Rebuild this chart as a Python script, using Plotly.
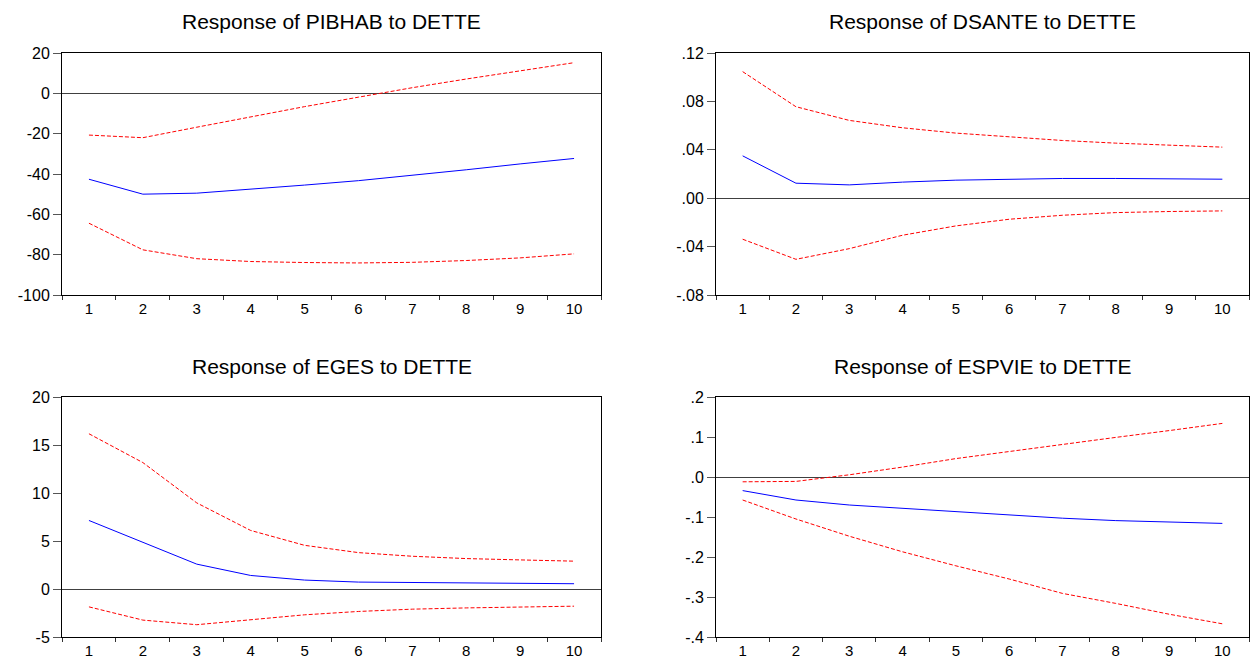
import plotly.graph_objects as go

periods = ["1", "2", "3", "4", "5", "6", "7", "8", "9", "10"]

# Response of PIBHAB to DETTE
pibhab_resp = [-42.6, -50.0, -49.5, -47.6, -45.5, -43.3, -40.7, -37.9, -35.0, -32.3]
pibhab_up = [-20.7, -22.0, -16.8, -11.6, -6.6, -1.9, 2.8, 7.1, 11.2, 15.2]
pibhab_lo = [-64.4, -77.6, -82.0, -83.4, -83.9, -84.1, -83.8, -82.9, -81.6, -79.6]

# Response of DSANTE to DETTE
dsante_resp = [0.035, 0.0124, 0.011, 0.0133, 0.0149, 0.0157, 0.0163, 0.0163, 0.0163, 0.0157]
dsante_up = [0.1046, 0.0756, 0.0643, 0.0582, 0.0538, 0.0505, 0.0477, 0.0455, 0.0439, 0.0422]
dsante_lo = [-0.0339, -0.0505, -0.0417, -0.0306, -0.0229, -0.0174, -0.0141, -0.0119, -0.0110, -0.0105]

# Response of EGES to DETTE
eges_resp = [7.14, 4.83, 2.59, 1.41, 0.93, 0.72, 0.66, 0.62, 0.59, 0.55]
eges_up = [16.17, 13.17, 8.97, 6.10, 4.55, 3.79, 3.41, 3.17, 3.03, 2.90]
eges_lo = [-1.86, -3.24, -3.72, -3.20, -2.69, -2.34, -2.10, -1.97, -1.86, -1.79]

# Response of ESPVIE to DETTE
espvie_resp = [-0.034, -0.0575, -0.070, -0.078, -0.087, -0.094, -0.103, -0.109, -0.113, -0.116]
espvie_up = [-0.012, -0.011, 0.0055, 0.0248, 0.046, 0.064, 0.082, 0.099, 0.116, 0.134]
espvie_lo = [-0.0575, -0.105, -0.148, -0.187, -0.222, -0.255, -0.291, -0.316, -0.343, -0.367]

titles = ["Response of PIBHAB to DETTE", "Response of DSANTE to DETTE",
          "Response of EGES to DETTE", "Response of ESPVIE to DETTE"]

pibhab_ticks = [-100, -80, -60, -40, -20, 0, 20]
pibhab_labels = ["-100", "-80", "-60", "-40", "-20", "0", "20"]
dsante_ticks = [-0.08, -0.04, 0.0, 0.04, 0.08, 0.12]
dsante_labels = ["-.08", "-.04", ".00", ".04", ".08", ".12"]
eges_ticks = [-5, 0, 5, 10, 15, 20]
eges_labels = ["-5", "0", "5", "10", "15", "20"]
espvie_ticks = [-0.4, -0.3, -0.2, -0.1, 0.0, 0.1, 0.2]
espvie_labels = ["-.4", "-.3", "-.2", "-.1", ".0", ".1", ".2"]

panels = [
    (pibhab_resp, pibhab_up, pibhab_lo, pibhab_ticks, pibhab_labels),
    (dsante_resp, dsante_up, dsante_lo, dsante_ticks, dsante_labels),
    (eges_resp, eges_up, eges_lo, eges_ticks, eges_labels),
    (espvie_resp, espvie_up, espvie_lo, espvie_ticks, espvie_labels),
]

W, H = 1257, 660
# pixel boxes (left, right, top, bottom)
boxes = [(62, 601, 53, 295), (716, 1249, 53, 295),
         (62, 601, 397, 637), (716, 1249, 397, 637)]

FONT = "Liberation Sans, Arial, sans-serif"
fig = go.Figure()
layout = dict(
    width=W, height=H, margin=dict(l=0, r=0, t=0, b=0, autoexpand=False),
    paper_bgcolor="white", plot_bgcolor="white", showlegend=False,
    font=dict(family=FONT, color="black", size=16),
)
annotations = []
for i, (resp, up, lo, tv, tt) in enumerate(panels):
    n = i + 1
    xa = "x" if n == 1 else f"x{n}"
    ya = "y" if n == 1 else f"y{n}"
    for vals, color, dash in ((up, "#FF0000", "4px,2px"), (lo, "#FF0000", "4px,2px"),
                              (resp, "#0000FF", "solid")):
        fig.add_trace(go.Scatter(x=periods, y=vals, mode="lines", xaxis=xa, yaxis=ya,
                                 line=dict(color=color, width=1, dash=dash),
                                 hoverinfo="skip"))
    l, r, t, b = boxes[i]
    xkey = "xaxis" if n == 1 else f"xaxis{n}"
    ykey = "yaxis" if n == 1 else f"yaxis{n}"
    layout[xkey] = dict(
        domain=[l / W, r / W], anchor=ya, type="category", range=[-0.5, 9.5],
        tickson="boundaries", ticks="outside", ticklen=4, tickcolor="#333",
        showline=True, linecolor="black", linewidth=1, mirror=True, automargin=False,
        showgrid=False, zeroline=False, tickfont=dict(size=15, family=FONT),
    )
    layout[ykey] = dict(
        domain=[1 - b / H, 1 - t / H], anchor=xa, range=[tv[0], tv[-1]],
        tickmode="array", tickvals=tv, ticktext=tt, automargin=False,
        ticks="outside", ticklen=8, tickcolor="#555",
        showline=True, linecolor="black", linewidth=1, mirror=True,
        showgrid=False, zeroline=True, zerolinecolor="#404040", zerolinewidth=1,
        tickfont=dict(size=16, family=FONT),
    )
    annotations.append(dict(
        text=titles[i], xref="paper", yref="paper",
        x=(l + r) / 2 / W, y=1 - (t - 31) / H, xanchor="center", yanchor="middle",
        showarrow=False, font=dict(size=21, family=FONT, color="black"),
    ))
layout["annotations"] = annotations
fig.update_layout(**layout)
post = ("document.body.style.margin='0';document.body.style.padding='0';"
        "document.body.style.overflow='hidden';")
fig.write_html("out.html", post_script=post, config={"displayModeBar": False})
